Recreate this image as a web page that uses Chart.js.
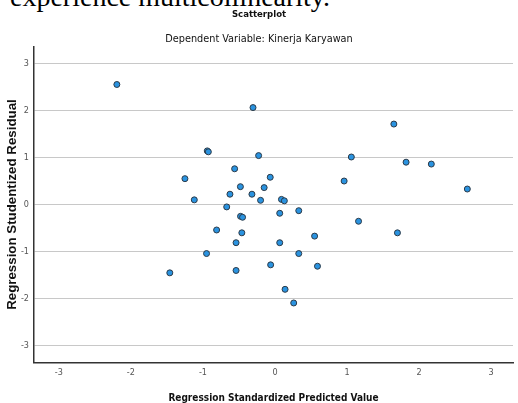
<!DOCTYPE html>
<html>
<head>
<meta charset="utf-8">
<script src="https://cdn.jsdelivr.net/npm/chart.js@4"></script>
<style>
  html, body { margin: 0; padding: 0; background: #fff; }
  #wrap { position: relative; width: 518px; height: 403px; overflow: hidden; }
  #above { position: absolute; left: 10px; top: -17.5px; font-family: "Liberation Serif", "Times New Roman", serif; font-size: 28px; line-height: 1; white-space: nowrap; color: #000; }
  canvas { position: absolute; left: 0; top: 0; }
</style>
</head>
<body>
<div id="wrap">
  <div id="above">experience multicollinearity.</div>
  <canvas id="chart" width="518" height="403"></canvas>
</div>
<script>
// Regression standardized predicted value (x) and studentized residual (y)
const predicted = [-2.195, -0.305, -0.94, -0.925, -0.227, -0.56, -1.25, -0.066, -0.48, -0.15,
                   -0.625, -0.32, -1.12, -0.20, -0.67, -0.478, -0.45, -0.81, -0.46, -0.54,
                   -0.95, -1.46, -0.54, -0.06, 1.06, 0.96, 0.09, 0.13, 0.066, 0.33,
                   1.16, 0.55, 0.066, 0.33, 0.59, 0.14, 0.26, 1.65, 1.82, 2.17,
                   2.67, 1.70];
const residual = [2.55, 2.06, 1.14, 1.12, 1.04, 0.76, 0.55, 0.58, 0.38, 0.36,
                  0.22, 0.22, 0.10, 0.09, -0.05, -0.25, -0.27, -0.54, -0.60, -0.81,
                  -1.04, -1.45, -1.40, -1.28, 1.01, 0.50, 0.11, 0.08, -0.185, -0.13,
                  -0.355, -0.67, -0.81, -1.04, -1.31, -1.80, -2.09, 1.71, 0.90, 0.86,
                  0.33, -0.60];
const xTicks = [-3, -2, -1, 0, 1, 2, 3];
const yTicks = [-3, -2, -1, 0, 1, 2, 3];

const points = predicted.map((x, i) => ({ x: x, y: residual[i] }));
const narrow = '"DejaVu Sans Condensed", "Liberation Sans Narrow", "Liberation Sans", Arial, sans-serif';

new Chart(document.getElementById('chart').getContext('2d'), {
    type: 'scatter',
    data: {
        datasets: [{
            data: points,
            backgroundColor: '#2a93e0',
            borderColor: '#2b3a48',
            borderWidth: 1,
            pointRadius: 3
        }]
    },
    options: {
        responsive: false,
        animation: false,
        layout: { padding: { left: 0, right: 0, top: 0, bottom: 0 } },
        plugins: {
            legend: { display: false },
            tooltip: { enabled: false },
            title: {
                display: true,
                text: 'Scatterplot',
                color: '#111',
                font: { family: narrow, size: 9.5, weight: 'bold', lineHeight: 1.1 },
                padding: { top: 9, bottom: 0 }
            },
            subtitle: {
                display: true,
                text: 'Dependent Variable: Kinerja Karyawan',
                color: '#111',
                font: { family: narrow, size: 10.8, lineHeight: 1.1 },
                padding: { top: 14, bottom: 1.5 }
            }
        },
        scales: {
            x: {
                type: 'linear',
                min: -3.345,
                max: 3.304,
                afterBuildTicks: s => { s.ticks = xTicks.map(v => ({ value: v })); },
                afterFit: s => { s.height = 40.7; },
                grid: { display: false, drawTicks: false },
                border: { display: true, color: '#333', width: 1.5 },
                ticks: { color: '#555', padding: 5, font: { family: narrow, size: 9, lineHeight: 1.2 } },
                title: {
                    display: true,
                    text: 'Regression Standardized Predicted Value',
                    color: '#111',
                    font: { family: narrow, size: 10, weight: 'bold', lineHeight: 1 },
                    padding: { top: 14, bottom: 0 }
                }
            },
            y: {
                type: 'linear',
                min: -3.35,
                max: 3.35,
                afterBuildTicks: s => { s.ticks = yTicks.map(v => ({ value: v })); },
                afterFit: s => { s.width = 34; },
                grid: { color: '#c8c8c8', lineWidth: 1, drawTicks: false },
                border: { display: true, color: '#333', width: 1.5 },
                ticks: { color: '#555', padding: 5, font: { family: narrow, size: 9, lineHeight: 1.2 } },
                title: {
                    display: true,
                    text: 'Regression Studentized Residual',
                    color: '#111',
                    font: { family: '"Liberation Sans", Arial, sans-serif', size: 13.3, weight: 'bold', lineHeight: 1 },
                    padding: { top: 5.5, bottom: 3 }
                }
            }
        }
    }
});
</script>
</body>
</html>
